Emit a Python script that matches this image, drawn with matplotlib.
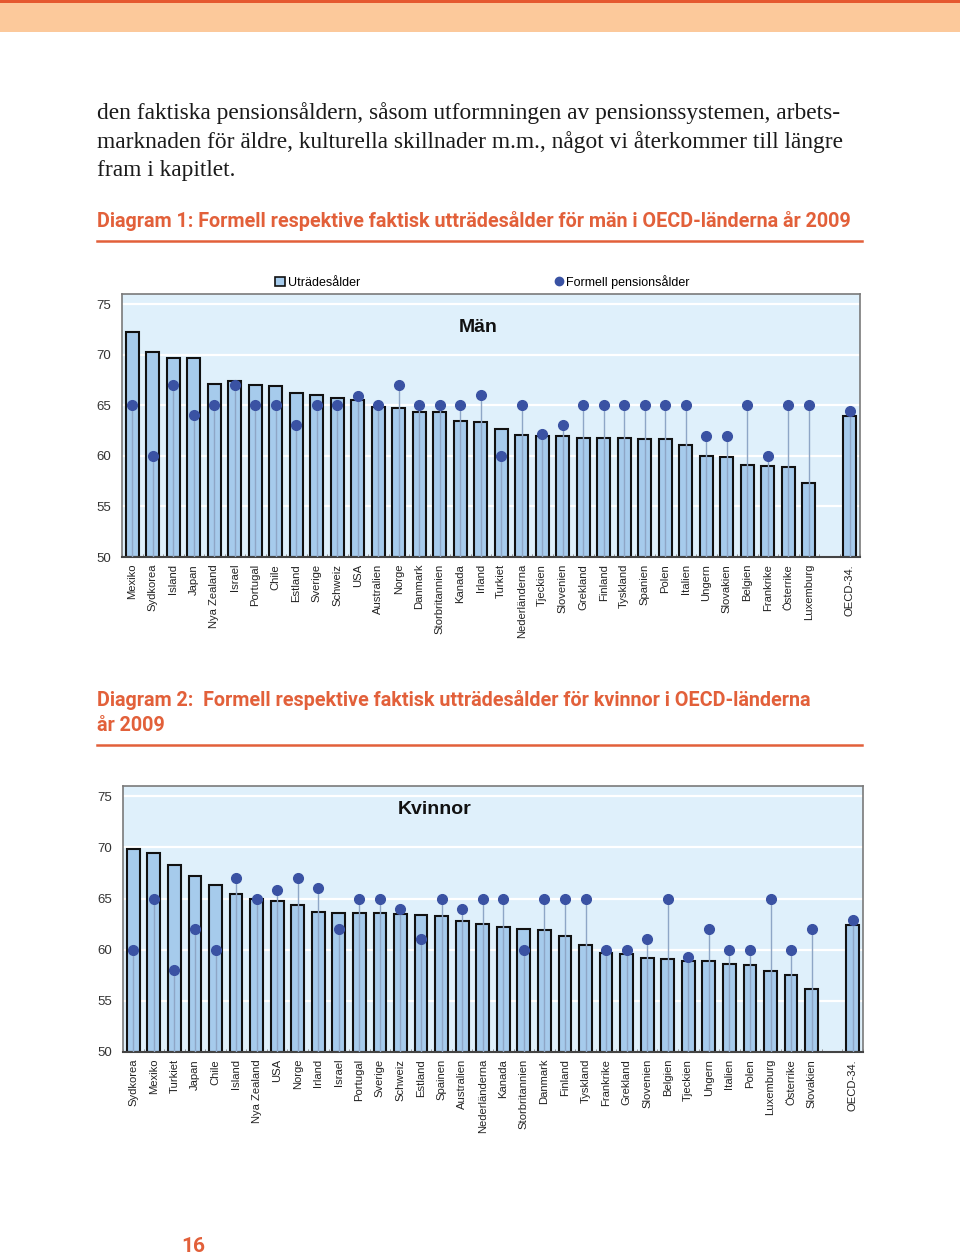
import numpy as np
import matplotlib
matplotlib.use("Agg")
from matplotlib import pyplot as plt
from matplotlib.patches import Rectangle, Patch
from matplotlib.lines import Line2D

# Diagram 1: men
countries_m = ["Mexiko", "Sydkorea", "Island", "Japan", "Nya Zealand", "Israel", "Portugal",
               "Chile", "Estland", "Sverige", "Schweiz", "USA", "Australien", "Norge",
               "Danmark", "Storbritannien", "Kanada", "Irland", "Turkiet", "Nederländerna",
               "Tjeckien", "Slovenien", "Grekland", "Finland", "Tyskland", "Spanien", "Polen",
               "Italien", "Ungern", "Slovakien", "Belgien", "Frankrike", "Österrike",
               "Luxemburg", "OECD-34."]
exit_m = [72.2, 70.3, 69.7, 69.7, 67.1, 67.4, 67.0, 66.9, 66.2, 66.0, 65.7, 65.5, 64.8, 64.7,
          64.35, 64.3, 63.4, 63.3, 62.7, 62.1, 62.0, 62.0, 61.8, 61.8, 61.8, 61.7, 61.7,
          61.05, 60.0, 59.9, 59.1, 59.0, 58.9, 57.3, 63.9]
formal_m = [65, 60, 67, 64, 65, 67, 65, 65, 63, 65, 65, 65.9, 65, 67, 65, 65, 65, 66, 60, 65,
            62.2, 63, 65, 65, 65, 65, 65, 65, 62, 62, 65, 60, 65, 65, 64.4]

# Diagram 2: women
countries_k = ["Sydkorea", "Mexiko", "Turkiet", "Japan", "Chile", "Island", "Nya Zealand",
               "USA", "Norge", "Irland", "Israel", "Portugal", "Sverige", "Schweiz", "Estland",
               "Spainen", "Australien", "Nederländerna", "Kanada", "Storbritannien", "Danmark",
               "Finland", "Tyskland", "Frankrike", "Grekland", "Slovenien", "Belgien",
               "Tjeckien", "Ungern", "Italien", "Polen", "Luxemburg", "Österrike", "Slovakien",
               "OECD-34."]
exit_k = [69.8, 69.5, 68.25, 67.2, 66.3, 65.4, 65.0, 64.8, 64.4, 63.65, 63.6, 63.6, 63.55,
          63.45, 63.4, 63.3, 62.85, 62.55, 62.2, 62.05, 61.9, 61.35, 60.45, 59.7, 59.55,
          59.15, 59.05, 58.9, 58.9, 58.65, 58.5, 57.95, 57.5, 56.15, 62.45]
formal_k = [60, 65, 58, 62, 60, 67, 65, 65.8, 67, 66, 62, 65, 65, 64, 61, 65, 64, 65, 65, 60,
            65, 65, 65, 60, 60, 61, 65, 59.3, 62, 60, 60, 65, 60, 62, 62.95]

W, H = 960, 1258
ORANGE = "#e2603a"
BAR = "#a6cbec"
DOT = "#3a52a3"
STEM = "#8ea6c6"
BG = "#dff0fb"


def fx(x):
    return x / W


def fy(y):
    return 1 - y / H


def box(l, t, r, b):
    return [fx(l), fy(b), (r - l) / W, (b - t) / H]


fig = plt.figure(figsize=(9.6, 12.58), dpi=100)

# top band
fig.patches.append(Rectangle((0, fy(32)), 1, 32 / H, transform=fig.transFigure,
                             facecolor="#fcc99b", edgecolor="none"))
fig.patches.append(Rectangle((0, fy(3)), 1, 3 / H, transform=fig.transFigure,
                             facecolor="#e5582f", edgecolor="none"))

# body text
body = ["den faktiska pensionsåldern, såsom utformningen av pensionssystemen, arbets-",
        "marknaden för äldre, kulturella skillnader m.m., något vi återkommer till längre",
        "fram i kapitlet."]
for i, line in enumerate(body):
    fig.text(fx(97), fy(113 + i * 28.7), line, family="Liberation Serif", fontsize=16.8,
             color="#1a1a1a", va="center", ha="left")

# titles
TF = 14.2
fig.text(fx(97), fy(221), "Diagram 1: Formell respektive faktisk utträdesålder för män i OECD-länderna år 2009",
         family="Roboto", weight="bold", fontsize=TF, color=ORANGE, va="center")
fig.add_artist(Line2D([fx(97), fx(862)], [fy(241), fy(241)], color=ORANGE, lw=1.8))
fig.text(fx(97), fy(700), "Diagram 2:  Formell respektive faktisk utträdesålder för kvinnor i OECD-länderna",
         family="Roboto", weight="bold", fontsize=TF, color=ORANGE, va="center")
fig.text(fx(97), fy(725), "år 2009",
         family="Roboto", weight="bold", fontsize=TF, color=ORANGE, va="center")
fig.add_artist(Line2D([fx(97), fx(862)], [fy(745), fy(745)], color=ORANGE, lw=1.8))

fig.text(fx(193), fy(1247), "16", family="Roboto", weight="bold", fontsize=15,
         color=ORANGE, ha="center", va="center")


def draw(ax, countries, exit_age, formal):
    n = len(countries)
    x = np.array(list(range(n - 1)) + [n])
    ax.set_facecolor(BG)
    ax.set_xlim(-0.5, n + 0.5)
    ax.set_ylim(50, 76)
    ax.set_yticks([50, 55, 60, 65, 70, 75])
    ax.grid(axis="y", color="white", lw=1.6, zorder=0)
    ax.set_axisbelow(True)
    ax.bar(x, np.array(exit_age) - 50, bottom=50, width=0.62, color=BAR,
           edgecolor="#111111", linewidth=1.5, zorder=2)
    ax.vlines(x, 50, formal, color=STEM, lw=1.0, zorder=3)
    ax.plot(x, formal, "o", color=DOT, markersize=7, zorder=4, clip_on=False)
    ax.set_xticks(x)
    ax.set_xticklabels(countries, rotation=90, fontsize=8.1, family="Liberation Sans",
                       color="#222222")
    ax.set_xticks(np.arange(-0.5, n + 1), minor=True)
    ax.tick_params(axis="x", which="major", length=0, pad=5)
    ax.tick_params(axis="x", which="minor", length=2, color="#777777", direction="in")
    ax.tick_params(axis="y", length=0, pad=8, labelsize=9.5, labelcolor="#333333")
    for t in ax.get_yticklabels():
        t.set_family("Liberation Sans")
    for s in ["left", "top", "right"]:
        ax.spines[s].set_color("#7a7a7a")
        ax.spines[s].set_linewidth(1.2)
    ax.spines["bottom"].set_color("#444444")
    ax.spines["bottom"].set_linewidth(1.5)


ax1 = fig.add_axes(box(122, 294, 860, 557))
draw(ax1, countries_m, exit_m, formal_m)
fig.text(fx(478), fy(327), "Män", family="Liberation Sans", weight="bold", fontsize=14,
         ha="center", va="center", color="#111111")

handles = [Patch(facecolor=BAR, edgecolor="#111111", linewidth=1.2, label="Uträdesålder"),
           Line2D([], [], marker="o", color=DOT, linestyle="none", markersize=6,
                  label="Formell pensionsålder")]
fig.legend(handles=handles, ncol=2, loc="center left", bbox_to_anchor=(fx(264), fy(282)),
           frameon=False, prop={"family": "Liberation Sans", "size": 9},
           handlelength=0.8, handleheight=0.8, handletextpad=0.2, columnspacing=15.5)

ax2 = fig.add_axes(box(123, 786, 863, 1052))
draw(ax2, countries_k, exit_k, formal_k)
fig.text(fx(435), fy(809), "Kvinnor", family="Liberation Sans", weight="bold", fontsize=14,
         ha="center", va="center", color="#111111")

fig.savefig("out.png", dpi=100)
